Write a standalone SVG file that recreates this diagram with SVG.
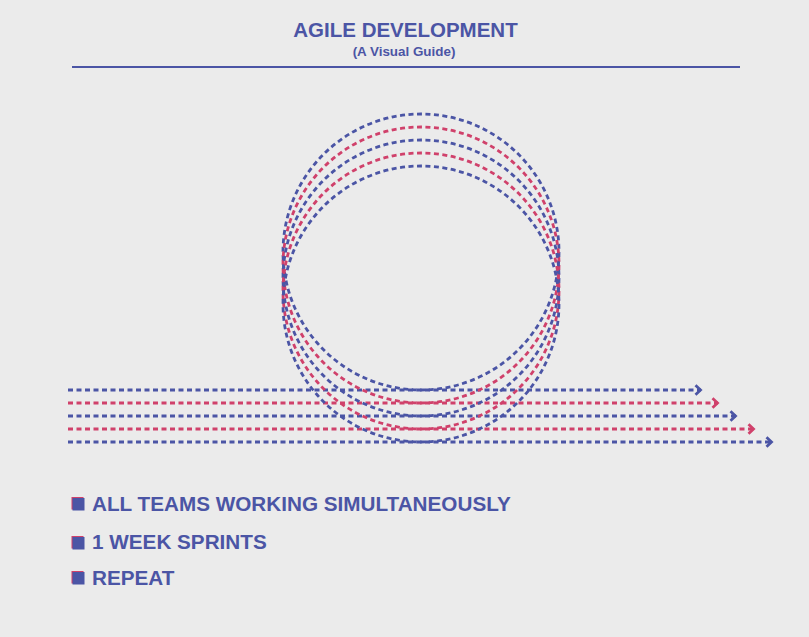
<svg xmlns="http://www.w3.org/2000/svg" width="809" height="637" viewBox="0 0 809 637">
  <style>
    .bg { fill: #ebebeb; }
    .title { font-family: "Liberation Sans", Arial, sans-serif; font-weight: bold; fill: #4b55a5; }
    .track { fill: none; stroke-width: 2.8; stroke-dasharray: 5 3.5; stroke-linecap: butt; }
    .blue { stroke: #4b55a5; }
    .red { stroke: #d0416b; }
    .item { font-family: "Liberation Sans", Arial, sans-serif; font-weight: bold; font-size: 20.7px; fill: #4b55a5; }
  </style>
  <defs>
    <marker id="chev-blue" markerUnits="userSpaceOnUse" markerWidth="14" markerHeight="14" refX="10" refY="7" orient="auto" overflow="visible">
      <path d="M4.5,2.3 L9.5,7 L4.5,11.7" fill="none" stroke="#4b55a5" stroke-width="2.8"/>
    </marker>
    <marker id="chev-red" markerUnits="userSpaceOnUse" markerWidth="14" markerHeight="14" refX="10" refY="7" orient="auto" overflow="visible">
      <path d="M4.5,2.3 L9.5,7 L4.5,11.7" fill="none" stroke="#d0416b" stroke-width="2.8"/>
    </marker>
  </defs>

  <rect class="bg" x="0" y="0" width="809" height="637"/>

  <!-- heading -->
  <g id="heading">
    <text class="title" x="405.5" y="37" font-size="20.5" text-anchor="middle">AGILE DEVELOPMENT</text>
    <text class="title" x="404" y="55.5" font-size="13.4" text-anchor="middle">(A Visual Guide)</text>
    <line x1="72" y1="67" x2="740" y2="67" stroke="#4b55a5" stroke-width="2"/>
  </g>

  <!-- five teams: same loop, each shifted down one lane -->
  <g id="connectors">
    <g id="team-1">
      <circle class="track blue" cx="421" cy="252" r="138"/>
      <line class="track blue" x1="68" y1="390" x2="701" y2="390" marker-end="url(#chev-blue)"/>
    </g>
    <g id="team-2">
      <circle class="track red" cx="421" cy="265" r="138"/>
      <line class="track red" x1="68" y1="403" x2="718" y2="403" marker-end="url(#chev-red)"/>
    </g>
    <g id="team-3">
      <circle class="track blue" cx="421" cy="278" r="138"/>
      <line class="track blue" x1="68" y1="416" x2="736" y2="416" marker-end="url(#chev-blue)"/>
    </g>
    <g id="team-4">
      <circle class="track red" cx="421" cy="291" r="138"/>
      <line class="track red" x1="68" y1="429" x2="754" y2="429" marker-end="url(#chev-red)"/>
    </g>
    <g id="team-5">
      <circle class="track blue" cx="421" cy="304" r="138"/>
      <line class="track blue" x1="68" y1="442" x2="772" y2="442" marker-end="url(#chev-blue)"/>
    </g>
  </g>

  <!-- key points -->
  <g id="point-1">
    <rect x="71.5" y="497" width="12" height="12.5" fill="#d0416b"/>
    <rect x="72.5" y="498" width="12" height="12.5" fill="#4b55a5"/>
    <text class="item" x="92" y="511">ALL TEAMS WORKING SIMULTANEOUSLY</text>
  </g>
  <g id="point-2">
    <rect x="71.5" y="536" width="12" height="12.5" fill="#d0416b"/>
    <rect x="72.5" y="537" width="12" height="12.5" fill="#4b55a5"/>
    <text class="item" x="92" y="549">1 WEEK SPRINTS</text>
  </g>
  <g id="point-3">
    <rect x="71.5" y="571" width="12" height="12.5" fill="#d0416b"/>
    <rect x="72.5" y="572" width="12" height="12.5" fill="#4b55a5"/>
    <text class="item" x="92" y="585">REPEAT</text>
  </g>
</svg>
